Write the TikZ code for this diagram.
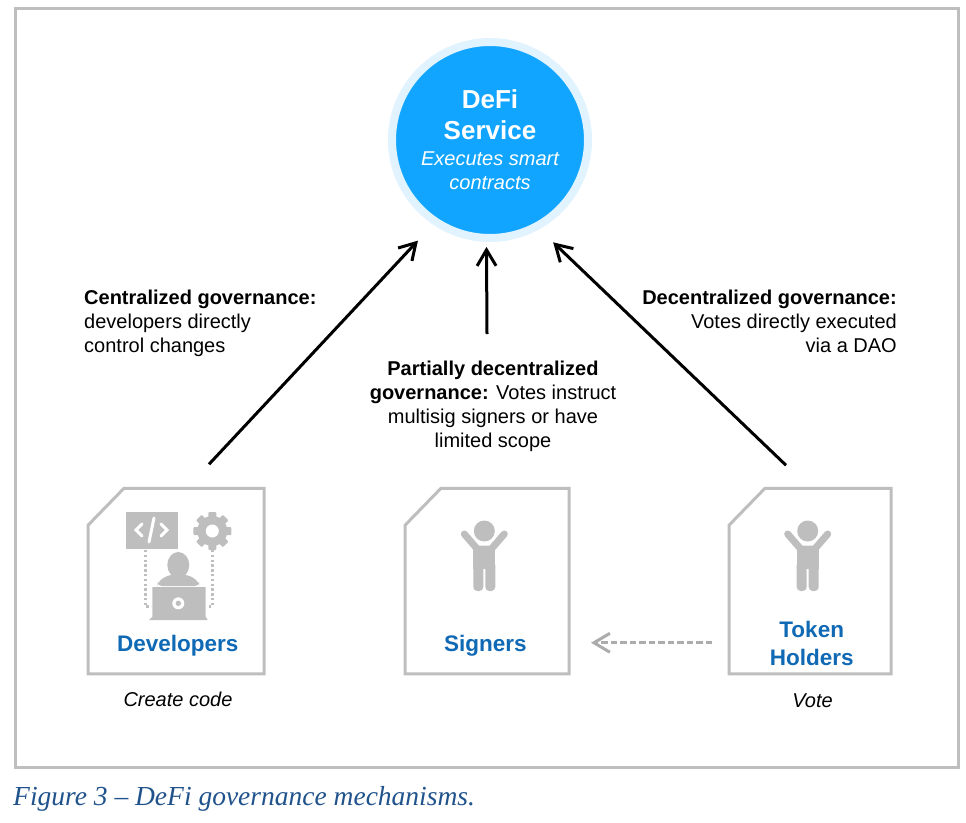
\documentclass[tikz,border=0pt]{standalone}
\usepackage{fontspec}
\setmainfont{Liberation Sans}
\newfontfamily\captionfont{Liberation Serif}
\usetikzlibrary{arrows.meta, positioning, calc}

\definecolor{frame_gray}{RGB}{190, 190, 190}
\definecolor{dash_gray}{RGB}{172, 172, 172}
\definecolor{service_fill}{RGB}{18, 165, 255}
\definecolor{service_ring}{RGB}{225, 243, 254}
\definecolor{actor_blue}{RGB}{15, 105, 180}
\definecolor{caption_blue}{RGB}{32, 82, 140}

% chamfered actor frame round a named box
\newcommand{\actorframe}[1]{
    \draw[actorline] ($(#1.north west)+(36,0)$) -- (#1.north east) -- (#1.south east)
        -- (#1.south west) -- ($(#1.north west)+(0,37)$) -- cycle;
}
% person with raised arms
\newcommand{\raisedperson}[2]{
    \fill[frame_gray] (#1,#2) circle (10.5);
    \draw[frame_gray, line width=7pt, line cap=round, line join=round]
        (#1-20,#2+3) -- (#1-7,#2+18) -- (#1+7,#2+18) -- (#1+20,#2+3);
    \fill[frame_gray] (#1-11,#2+16) rectangle (#1+11,#2+38);
    \fill[frame_gray, rounded corners=4pt] (#1-11,#2+30) rectangle (#1-1,#2+60);
    \fill[frame_gray, rounded corners=4pt] (#1+1,#2+30) rectangle (#1+11,#2+60);
}

\begin{document}
\begin{tikzpicture}[
    x=1pt, y=-1pt,
    % --- Styles ---
    service/.style={
        circle, minimum size=196pt, inner sep=0pt, fill=service_fill,
        draw=service_ring, line width=8pt, text=white, align=center,
        font=\fontsize{20pt}{24pt}\selectfont
    },
    actorbox/.style={rectangle, inner sep=0pt, outer sep=0pt, minimum height=185.5pt},
    actorline/.style={draw=frame_gray, line width=3pt},
    actorname/.style={font=\fontsize{22.5pt}{27.5pt}\selectfont\bfseries, text=actor_blue, align=center},
    note/.style={font=\fontsize{20pt}{24pt}\selectfont\itshape},
    govlabel/.style={font=\fontsize{20pt}{24pt}\selectfont, inner sep=0pt},
    arrow/.style={-{Straight Barb[length=16pt, width=19pt, line width=3pt]}, line width=3pt, black},
    votearrow/.style={-{Straight Barb[length=16pt, width=19pt, line width=3pt]}, line width=3pt, dash_gray, dash pattern=on 6.5pt off 3pt},
    iconfill/.style={fill=frame_gray, draw=none},
    dots/.style={draw=frame_gray, line width=2.6pt, dash pattern=on 2.4pt off 2.4pt},
    glyph/.style={draw=white, line width=3pt, line cap=round, line join=miter}
]
    \useasboundingbox (0,0) rectangle (966,822);

    % ── FRAME ───────────────────────────────────────────────────────────
    \draw[frame_gray, line width=3pt] (15,8.5) rectangle (958.5,767.5);

    % ── NODES ───────────────────────────────────────────────────────────

    % Service
    \node (service) [service] at (490,140)
        {\fontsize{26pt}{24pt}\selectfont\bfseries DeFi\\[7pt]
         \fontsize{26pt}{24pt}\selectfont\bfseries Service\\[2pt]
         \itshape Executes smart\\
         \itshape contracts};

    % Actor boxes
    \node (developers_box) [actorbox, minimum width=176pt] at (176,581) {};
    \node (signers_box) [actorbox, minimum width=164pt, right=141pt of developers_box] {};
    \node (holders_box) [actorbox, minimum width=162pt, right=160pt of signers_box] {};
    \actorframe{developers_box}
    \actorframe{signers_box}
    \actorframe{holders_box}

    % Actor names
    \node (developers) [actorname] at (177.7,645.5) {Developers};
    \node (signers) [actorname] at (485.3,645.5) {Signers};
    \node (holders) [actorname] at (811.7,643.5) {Token\\Holders};

    \node (create) [note] at (178,699) {Create code};
    \node (vote) [note] at (812.5,701) {Vote};

    % Developer icon
    \node (screen) [iconfill, rectangle, minimum width=52pt, minimum height=37pt, inner sep=0pt] at (151.5,530) {};
    \draw[glyph] (142,524) -- (136,530) -- (142,536);
    \draw[glyph] (161,524) -- (167,530) -- (161,536);
    \draw[glyph] (154,518) -- (149,542);
    \fill[frame_gray] (212.3,531) circle (15);
    \foreach \a in {0,45,...,315}
        \fill[frame_gray, rounded corners=1pt, rotate around={\a:(212.3,531)}] (208.3,512) rectangle (216.3,522);
    \fill[white] (212.3,531) circle (6.5);
    \draw[dots] (145.3,550) -- (145.3,606.7) -- (151,606.7);
    \draw[dots] (212.3,550) -- (212.3,606.7) -- (206.7,606.7);
    \fill[frame_gray] (178.3,565) ellipse (11 and 13);
    \fill[frame_gray, rounded corners=4pt] (157.7,586) -- (157.7,582) -- (168,575) -- (189,575) -- (199,582) -- (199,586) -- cycle;
    \fill[frame_gray] (152.3,587) -- (205.7,587) -- (205.7,616.7) -- (207.7,620) -- (149,620) -- (152.3,616.7) -- cycle;
    \fill[white] (178.3,603.3) circle (6);
    \fill[frame_gray] (178.3,603.3) circle (2.7);

    % Signer and token holder icons
    \raisedperson{484.3}{531}
    \raisedperson{807.7}{531}

    % Labels
    \node (central) [govlabel, anchor=north west, align=left] at (84,290)
        {\textbf{Centralized governance:}\\developers directly\\control changes};
    \node (partial) [govlabel, anchor=north, align=center] at (493,361)
        {\textbf{Partially decentralized}\\\textbf{governance:} Votes instruct\\multisig signers or have\\limited scope};
    \node (decentral) [govlabel, anchor=north east, align=right] at (897,290)
        {\textbf{Decentralized governance:}\\Votes directly executed\\via a DAO};

    % Caption
    \node (caption) [anchor=base west, inner sep=0pt, text=caption_blue, font=\captionfont\fontsize{27.5pt}{30pt}\selectfont\itshape] at (13,805)
        {Figure 3 – DeFi governance mechanisms.};

    % ── ARROWS ──────────────────────────────────────────────────────────
    \coordinate (dev_tail) at ($(developers_box.north)+(33,-24)$);
    \coordinate (signer_tail) at ($(partial.north)+(-6,-27)$);
    \coordinate (holder_tail) at ($(holders_box.north)+(-24,-23)$);
    \coordinate (vote_tail) at ($(holders_box.south west)+(-17,-31)$);

    \draw [arrow, shorten >=22pt] (dev_tail) -- (service.236);
    \draw [arrow, shorten >=5pt] (signer_tail) -- (service.268.3);
    \draw [arrow, shorten >=19pt] (holder_tail) -- (service.299.5);
    \draw [votearrow, shorten >=22pt] (vote_tail) -- (vote_tail -| signers_box.east);

\end{tikzpicture}
\end{document}
